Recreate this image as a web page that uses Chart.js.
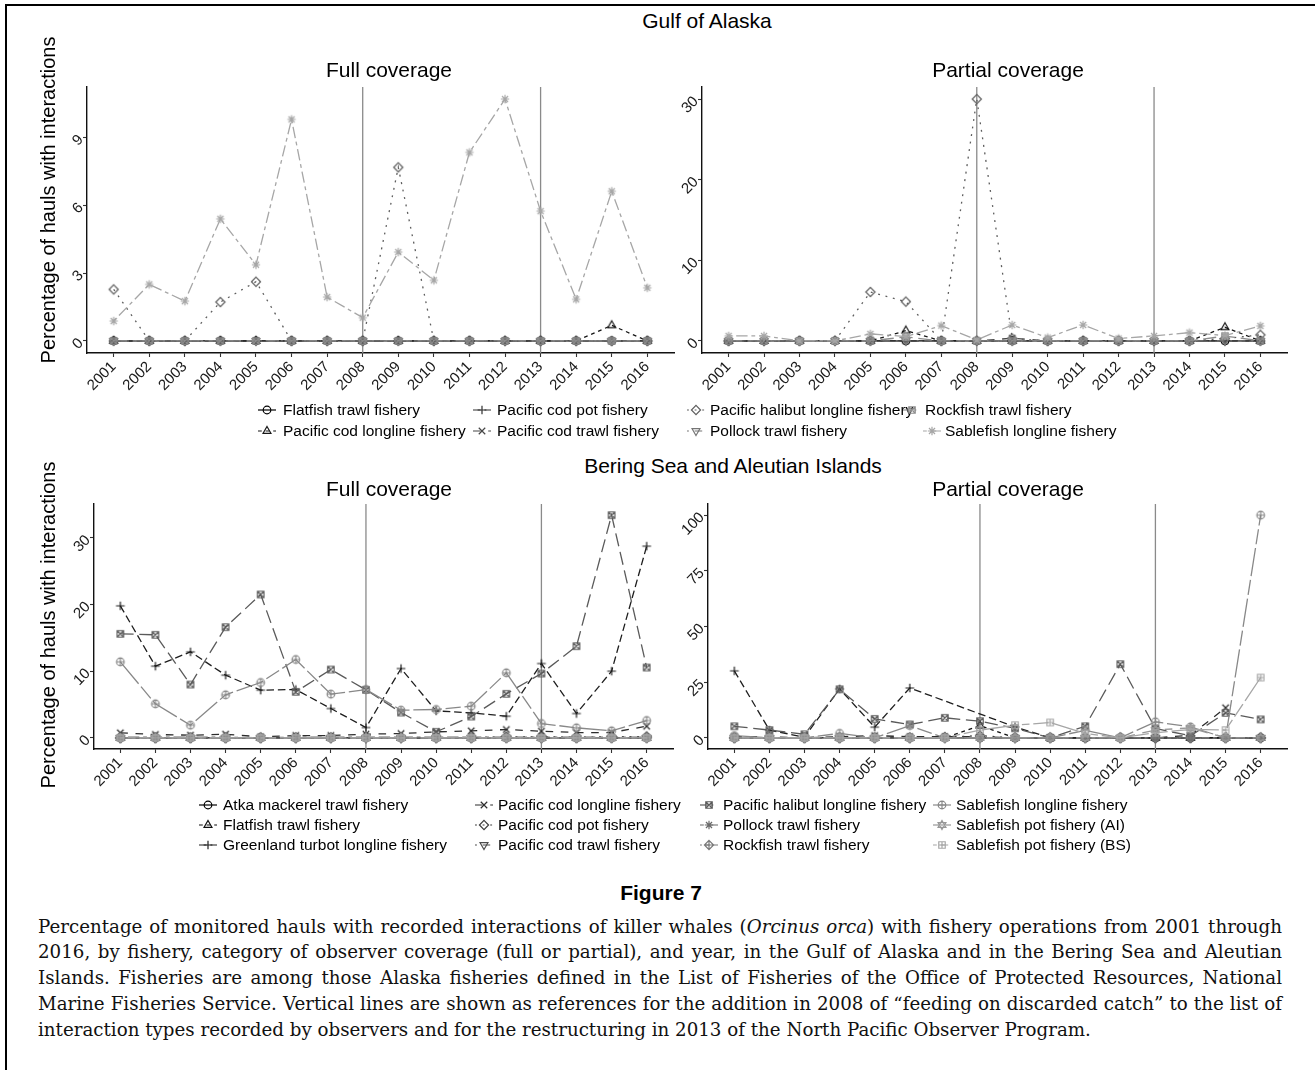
<!DOCTYPE html>
<html><head><meta charset="utf-8">
<script src="https://cdn.jsdelivr.net/npm/chart.js@4.4.1/dist/chart.umd.min.js"></script>
<style>
html,body{margin:0;padding:0;background:#fff;}
body{width:1315px;height:1070px;position:relative;overflow:hidden;font-family:"Liberation Sans",Arial,sans-serif;}
.frame{position:absolute;left:5px;top:4px;width:1330px;height:1090px;border-left:2px solid #000;border-top:2px solid #000;}
canvas.panel{position:absolute;}
canvas.key{position:absolute;}
.txt{position:absolute;white-space:nowrap;color:#000;line-height:1;}
.title{font-size:21px;transform:translate(-50%,-50%);}
.ytitle{font-size:20px;transform:translate(-50%,-50%) rotate(-90deg);}
.leg{font-size:15.5px;transform:translateY(-50%);}
.fig{font-weight:bold;font-size:21px;transform:translate(-50%,-50%);}
.cap{position:absolute;white-space:nowrap;font-family:"DejaVu Serif","Liberation Serif",serif;line-height:26px;color:#111;}
</style></head><body>
<div class="frame"></div>
<script>
// ---------------- DATA ----------------
const years = [2001,2002,2003,2004,2005,2006,2007,2008,2009,2010,2011,2012,2013,2014,2015,2016];
const referenceYears = [2008, 2013];

const goaFisheries = ["Flatfish trawl fishery","Pacific cod longline fishery","Pacific cod pot fishery","Pacific cod trawl fishery","Pacific halibut longline fishery","Pollock trawl fishery","Rockfish trawl fishery","Sablefish longline fishery"];
const bsaiFisheries = ["Atka mackerel trawl fishery","Flatfish trawl fishery","Greenland turbot longline fishery","Pacific cod longline fishery","Pacific cod pot fishery","Pacific cod trawl fishery","Pacific halibut longline fishery","Pollock trawl fishery","Rockfish trawl fishery","Sablefish longline fishery","Sablefish pot fishery (AI)","Sablefish pot fishery (BS)"];

// Gulf of Alaska – full coverage (% of hauls)
const goaFullFlatfishTrawl     = [0,0,0,0,0,0,0,0,0,0,0,0,0,0,0,0];
const goaFullCodLongline       = [0,0,0,0,0,0,0,0,0,0,0,0,0,0,0.69,0];
const goaFullCodPot            = [0,0,0,0,0,0,0,0,0,0,0,0,0,0,0,0];
const goaFullCodTrawl          = [0,0,0,0,0,0,0,0,0,0,0,0,0,0,0,0];
const goaFullHalibutLongline   = [2.28,0,0,1.72,2.62,0,0,0,7.68,0,0,0,0,0,0,0];
const goaFullPollockTrawl      = [0,0,0,0,0,0,0,0,0,0,0,0,0,0,0,0];
const goaFullRockfishTrawl     = [0,0,0,0,0,0,0,0,0,0,0,0,0,0,0,0];
const goaFullSablefishLongline = [0.88,2.5,1.76,5.4,3.37,9.8,1.94,1.03,3.93,2.68,8.34,10.7,5.74,1.84,6.62,2.35];

// Gulf of Alaska – partial coverage
const goaPartFlatfishTrawl     = [0,0,0,0,0,0,0,0,0,0,0,0,0,0,0,0];
const goaPartCodLongline       = [0,0,0,0,0,1.28,0,0,0,0,0,0,0,0,1.69,0];
const goaPartCodPot            = [0,0,0,0,0,0,0,0,0,0,0,0,0,0,0,0];
const goaPartCodTrawl          = [0,0,0,0,0,0,0,0,0.33,0,0,0,0,0,0,0];
const goaPartHalibutLongline   = [0,0,0,0,6.07,4.88,0,30,0.3,0,0,0,0,0,0.3,0.75];
const goaPartPollockTrawl      = [0,0,0,0,0,0,0,0,0,0,0,0,0,0,0,0];
const goaPartRockfishTrawl     = [0,0,0,0,0,0.5,0,0,0,0,0,0,0,0,0.6,0];
const goaPartSablefishLongline = [0.62,0.62,0,0,0.87,0.54,1.9,0.12,1.98,0.41,1.98,0.3,0.62,1.03,0.66,1.86];

// Bering Sea and Aleutian Islands – full coverage
const bsaiFullAtka             = [0,0,0,0,0,0,0,0,0,0,0,0,0,0,0,0];
const bsaiFullFlatfish         = [0,0,0,0,0,0,0,0,0,0,0,0,0,0,0,0];
const bsaiFullGreenland        = [19.8,10.75,12.9,9.4,7.15,7.25,4.4,1.55,10.4,4.05,3.75,3.25,11.15,3.65,10.0,28.75];
const bsaiFullCodLongline      = [0.75,0.5,0.4,0.55,0.15,0.35,0.35,0.55,0.65,0.9,1.05,1.25,1.0,0.8,0.8,1.75];
const bsaiFullCodPot           = [0,0,0,0,0,0,0,0,0,0,0,0.15,0.15,0.1,0.15,0.2];
const bsaiFullCodTrawl         = [0,0,0,0,0,0,0,0,0,0,0,0,0,0,0,0];
const bsaiFullHalibut          = [15.6,15.45,8.0,16.6,21.5,6.9,10.25,7.2,3.8,0.9,3.2,6.6,9.65,13.75,33.4,10.55];
const bsaiFullPollock          = [0.1,0.1,0.1,0.1,0,0.1,0.1,0.1,0.1,0.1,0.1,0.1,0.1,0.1,0.1,0.1];
const bsaiFullRockfish         = [0,0,0,0,0,0,0,0,0,0,0,0,0,0,0,0];
const bsaiFullSablefishLongline= [11.4,5.1,1.9,6.45,8.3,11.75,6.55,7.25,4.15,4.25,4.75,9.75,2.15,1.5,1.05,2.6];
const bsaiFullSablefishPotAI   = [0,0,0,0,0,0,0,0,0,0,0,0,0,0,0,0];
const bsaiFullSablefishPotBS   = [0,0,0,0,0,0,0,0,0,0,0,0,0,0,0,0];

// Bering Sea and Aleutian Islands – partial coverage
const bsaiPartAtka             = [0,0,0,0,0,0,0,0,0,0,0,0,0,0,0,0];
const bsaiPartFlatfish         = [0,0,0,0,0,0,0,5.5,0,0,0,0,0,0,0,0];
const bsaiPartGreenland        = [30.1,3.5,0.3,22.0,4.8,22.4,null,null,4.9,0,0,0,0,0,0,0];
const bsaiPartCodLongline      = [0.5,0.5,0,0.5,1.0,0.5,0.5,0.5,0,0,0,0,0,1.2,13.5,null];
const bsaiPartCodPot           = [0,0,0,0,0,0,0.3,1.0,0,0,0,0,0,0,0,0];
const bsaiPartCodTrawl         = [0,0,0,0,0,0,0,0,0,0,0,0,0,0,0,0];
const bsaiPartHalibut          = [5.2,3.5,1.6,21.8,8.5,6.0,9.0,7.5,4.3,0,5.2,33.1,4.2,0.9,11.2,8.3];
const bsaiPartPollock          = [0,0,0,0,0,0,0,0,0,0,0,0,0,0,0,0];
const bsaiPartRockfish         = [0,0,0,0,0,0,0,0,0,0,0,0,0,0,0,0];
const bsaiPartSablefishLongline= [1.0,0,0,2.0,0,5.5,0,0,0,0,3.4,0,7.2,4.9,0,100];
const bsaiPartSablefishPotAI   = [0,0,0,0,0,0,0,0,0,0,0,0,3.5,4.5,0,0];
const bsaiPartSablefishPotBS   = [0,0,0,0,0,0,0,3.5,5.7,6.9,2.0,0,2.3,3.8,3.5,27.1];

// y tick labels
const goaFullTicks  = [0,3,6,9];
const goaPartTicks  = [0,10,20,30];
const bsaiFullTicks = [0,10,20,30];
const bsaiPartTicks = [0,25,50,75,100];

// ---------------- STYLES ----------------
const goaStyles = [
  {shape:'circle',lt:'solid',color:'#000000'},
  {shape:'triangle',lt:'22',color:'#171717'},
  {shape:'plus',lt:'42',color:'#2f2f2f'},
  {shape:'x',lt:'44',color:'#464646'},
  {shape:'diamond',lt:'13',color:'#5e5e5e'},
  {shape:'triangleDown',lt:'1343',color:'#757575'},
  {shape:'squareX',lt:'73',color:'#8d8d8d'},
  {shape:'asterisk',lt:'2262',color:'#a6a6a6'}
];
const bsaiStyles = [
  {shape:'circle',lt:'solid',color:'#000000'},
  {shape:'triangle',lt:'22',color:'#0f0f0f'},
  {shape:'plus',lt:'42',color:'#1e1e1e'},
  {shape:'x',lt:'44',color:'#2d2d2d'},
  {shape:'diamond',lt:'13',color:'#3c3c3c'},
  {shape:'triangleDown',lt:'1343',color:'#4b4b4b'},
  {shape:'squareX',lt:'73',color:'#5a5a5a'},
  {shape:'asterisk',lt:'2262',color:'#6a6a6a'},
  {shape:'diamondPlus',lt:'12223242',color:'#797979'},
  {shape:'circlePlus',lt:'F282',color:'#888888'},
  {shape:'starDavid',lt:'F4448444',color:'#979797'},
  {shape:'squarePlus',lt:'224282F2',color:'#a6a6a6'}
];

function dash(lt){ return lt==='solid' ? [] : lt.split('').map(h=>parseInt(h,16)*1.9); }

function drawMarker(ctx, shape, cx, cy, r, color, lw){
  ctx.save(); ctx.strokeStyle=color; ctx.lineWidth=lw; ctx.setLineDash([]); ctx.beginPath();
  const tri=d=>{const h=r*1.2; ctx.moveTo(cx,cy-d*h); ctx.lineTo(cx+h*0.866,cy+d*h*0.5); ctx.lineTo(cx-h*0.866,cy+d*h*0.5); ctx.closePath();};
  const plus=s=>{ctx.moveTo(cx-s,cy);ctx.lineTo(cx+s,cy);ctx.moveTo(cx,cy-s);ctx.lineTo(cx,cy+s);};
  const cross=s=>{ctx.moveTo(cx-s,cy-s);ctx.lineTo(cx+s,cy+s);ctx.moveTo(cx-s,cy+s);ctx.lineTo(cx+s,cy-s);};
  const sq=s=>{ctx.rect(cx-s,cy-s,2*s,2*s);};
  const dia=s=>{ctx.moveTo(cx,cy-s);ctx.lineTo(cx+s,cy);ctx.lineTo(cx,cy+s);ctx.lineTo(cx-s,cy);ctx.closePath();};
  const circ=s=>{ctx.moveTo(cx+s,cy);ctx.arc(cx,cy,s,0,Math.PI*2);};
  switch(shape){
    case 'circle': circ(r); break;
    case 'triangle': tri(1); break;
    case 'triangleDown': tri(-1); break;
    case 'plus': plus(r*1.15); break;
    case 'x': cross(r*0.85); break;
    case 'diamond': dia(r*1.2); break;
    case 'squareX': sq(r*0.85); cross(r*0.85); break;
    case 'asterisk': plus(r*1.1); cross(r*0.8); break;
    case 'diamondPlus': dia(r*1.2); plus(r*1.2); break;
    case 'circlePlus': circ(r); plus(r); break;
    case 'starDavid': tri(1); tri(-1); break;
    case 'squarePlus': sq(r*0.85); plus(r*0.85); break;
  }
  ctx.stroke(); ctx.restore();
}
function markerCanvas(shape,color){
  const c=document.createElement('canvas'); c.width=14; c.height=14;
  drawMarker(c.getContext('2d'),shape,7,7,3.8,color,1.2); return c;
}

Chart.defaults.font.family = '"Liberation Sans", Arial, sans-serif';

const refLinePlugin = {
  id:'refLines',
  beforeDatasetsDraw(chart){
    const {ctx, chartArea:a, scales:{x}} = chart;
    ctx.save(); ctx.strokeStyle='#8a8a8a'; ctx.lineWidth=1.3;
    referenceYears.forEach(yr=>{ const px=x.getPixelForValue(yr); ctx.beginPath(); ctx.moveTo(px,a.top); ctx.lineTo(px,a.bottom); ctx.stroke(); });
    ctx.restore();
  }
};

const YW=42, XH=52;
function createChart(canvas,w,h,p){
  canvas.width=w; canvas.height=h; canvas.style.width=w+'px'; canvas.style.height=h+'px';
  const all=p.series.flat().filter(v=>v!=null);
  const maxV=Math.max(...all), pad=0.05*maxV;
  const datasets=p.series.map((arr,i)=>{const st=p.styles[i]; return {
    label:p.names[i], data:years.map((yr,j)=>({x:yr,y:arr[j]})),
    borderColor:st.color, backgroundColor:st.color, borderWidth:1.3, borderDash:dash(st.lt),
    pointStyle:markerCanvas(st.shape,st.color), pointRadius:4, pointHoverRadius:4,
    fill:false, tension:0, spanGaps:true, order:-i
  };});
  const tickFont={size:15, family:'"Liberation Sans", Arial, sans-serif'};
  return new Chart(canvas,{type:'line',data:{datasets},plugins:[refLinePlugin],options:{
    responsive:false, animation:false, devicePixelRatio:1,
    layout:{padding:{left:0,top:4,right:6,bottom:0}},
    plugins:{legend:{display:false},tooltip:{enabled:false}},
    scales:{
      x:{type:'linear',min:2000.25,max:2016.75,
        afterBuildTicks:s=>{s.ticks=years.map(v=>({value:v}));},
        afterFit:s=>{s.height=XH;},
        ticks:{autoSkip:false,minRotation:45,maxRotation:45,callback:v=>String(v),font:tickFont,color:'#1a1a1a',padding:1},
        grid:{drawOnChartArea:false,drawTicks:true,tickLength:4,tickColor:'#333',tickWidth:1.1},
        border:{display:true,color:'#111',width:1.4}},
      y:{type:'linear',min:-pad,max:maxV+pad,
        afterBuildTicks:s=>{s.ticks=p.ticks.map(v=>({value:v}));},
        afterFit:s=>{s.width=YW;},
        ticks:{minRotation:45,maxRotation:45,callback:v=>String(v),font:tickFont,color:'#1a1a1a',padding:2},
        grid:{drawOnChartArea:false,drawTicks:true,tickLength:4,tickColor:'#333',tickWidth:1.1},
        border:{display:true,color:'#111',width:1.4}}
    }}});
}
function buildPanel(p){
  const cv=document.createElement('canvas'); cv.className='panel'; document.body.appendChild(cv);
  const r=p.rect; let w=(r.R-r.L)+YW+6, h=(r.B-r.T)+4+XH;
  let ch=createChart(cv,w,h,p); let ca=ch.chartArea;
  const dw=(r.R-r.L)-(ca.right-ca.left), dh=(r.B-r.T)-(ca.bottom-ca.top);
  if(Math.abs(dw)>0.3||Math.abs(dh)>0.3){ ch.destroy(); w=Math.round(w+dw); h=Math.round(h+dh); ch=createChart(cv,w,h,p); ca=ch.chartArea; }
  cv.style.left=(r.L-ca.left)+'px'; cv.style.top=(r.T-ca.top)+'px';
}

const panels=[
  {series:[goaFullFlatfishTrawl,goaFullCodLongline,goaFullCodPot,goaFullCodTrawl,goaFullHalibutLongline,goaFullPollockTrawl,goaFullRockfishTrawl,goaFullSablefishLongline],
   names:goaFisheries,styles:goaStyles,ticks:goaFullTicks,rect:{L:87,R:674,T:87,B:353}},
  {series:[goaPartFlatfishTrawl,goaPartCodLongline,goaPartCodPot,goaPartCodTrawl,goaPartHalibutLongline,goaPartPollockTrawl,goaPartRockfishTrawl,goaPartSablefishLongline],
   names:goaFisheries,styles:goaStyles,ticks:goaPartTicks,rect:{L:702,R:1287,T:87,B:353}},
  {series:[bsaiFullAtka,bsaiFullFlatfish,bsaiFullGreenland,bsaiFullCodLongline,bsaiFullCodPot,bsaiFullCodTrawl,bsaiFullHalibut,bsaiFullPollock,bsaiFullRockfish,bsaiFullSablefishLongline,bsaiFullSablefishPotAI,bsaiFullSablefishPotBS],
   names:bsaiFisheries,styles:bsaiStyles,ticks:bsaiFullTicks,rect:{L:94,R:673,T:504,B:749}},
  {series:[bsaiPartAtka,bsaiPartFlatfish,bsaiPartGreenland,bsaiPartCodLongline,bsaiPartCodPot,bsaiPartCodTrawl,bsaiPartHalibut,bsaiPartPollock,bsaiPartRockfish,bsaiPartSablefishLongline,bsaiPartSablefishPotAI,bsaiPartSablefishPotBS],
   names:bsaiFisheries,styles:bsaiStyles,ticks:bsaiPartTicks,rect:{L:708,R:1287,T:504,B:749}}
];
panels.forEach(buildPanel);

// ---------------- TEXT ----------------
function addText(cls,txt,x,y){const d=document.createElement('div'); d.className='txt '+cls; d.textContent=txt; d.style.left=x+'px'; d.style.top=y+'px'; document.body.appendChild(d); return d;}
addText('title','Gulf of Alaska',707,20);
addText('title','Full coverage',389,69);
addText('title','Partial coverage',1008,69);
addText('title','Bering Sea and Aleutian Islands',733,465);
addText('title','Full coverage',389,488);
addText('title','Partial coverage',1008,488);
addText('ytitle','Percentage of hauls with interactions',48,200);
addText('ytitle','Percentage of hauls with interactions',48,625);

// legends: [keyCenterX, textLeft, rowY] per fishery
const goaLegendPos=[[267,283,410],[267,283,431],[482,497,410],[482,497,431],[696,710,410],[696,710,431],[912,925,410],[932,945,431]];
const bsaiLegendPos=[[208,223,805],[208,223,825],[208,223,845],[484,498,805],[484,498,825],[484,498,845],[709,723,805],[709,723,825],[709,723,845],[942,956,805],[942,956,825],[942,956,845]];
function addLegend(names,styles,pos){
  names.forEach((n,i)=>{
    const [kx,tx,y]=pos[i], st=styles[i];
    const c=document.createElement('canvas'); c.className='key'; c.width=20; c.height=14;
    c.style.left=(kx-10)+'px'; c.style.top=(y-7)+'px';
    const ctx=c.getContext('2d'); ctx.strokeStyle=st.color; ctx.lineWidth=1.2; ctx.setLineDash(dash(st.lt));
    ctx.beginPath(); ctx.moveTo(1,7); ctx.lineTo(19,7); ctx.stroke();
    drawMarker(ctx,st.shape,10,7,3.8,st.color,1.2);
    document.body.appendChild(c);
    addText('leg',n,tx,y);
  });
}
addLegend(goaFisheries,goaStyles,goaLegendPos);
addLegend(bsaiFisheries,bsaiStyles,bsaiLegendPos);

addText('fig','Figure 7',661,892);
const captionLines=[
  'Percentage of monitored hauls with recorded interactions of killer whales (<i>Orcinus orca</i>) with fishery operations from 2001 through',
  '2016, by fishery, category of observer coverage (full or partial), and year, in the Gulf of Alaska and in the Bering Sea and Aleutian',
  'Islands. Fisheries are among those Alaska fisheries defined in the List of Fisheries of the Office of Protected Resources, National',
  'Marine Fisheries Service. Vertical lines are shown as references for the addition in 2008 of “feeding on discarded catch” to the list of',
  'interaction types recorded by observers and for the restructuring in 2013 of the North Pacific Observer Program.'
];
const capLeft=38, capWidth=1244, capCenters=[927,952,978,1004,1030];
const capDivs=captionLines.map((t,i)=>{
  const d=document.createElement('div'); d.className='cap'; d.innerHTML=t; d.style.fontSize='18px';
  d.style.left=capLeft+'px'; d.style.top=(capCenters[i]-13)+'px'; document.body.appendChild(d); return d;
});
// choose a font size so the widest full line just fits, then justify lines 1-4
const widest=Math.max(...capDivs.slice(0,4).map(d=>d.getBoundingClientRect().width));
const fs=Math.min(19,18*(capWidth-6)/widest);
capDivs.forEach((d,i)=>{
  d.style.fontSize=fs+'px';
  if(i<4){ const nat=d.getBoundingClientRect().width; const sp=(d.textContent.match(/ /g)||[]).length; d.style.wordSpacing=((capWidth-nat)/sp)+'px'; }
});
</script></body></html>
